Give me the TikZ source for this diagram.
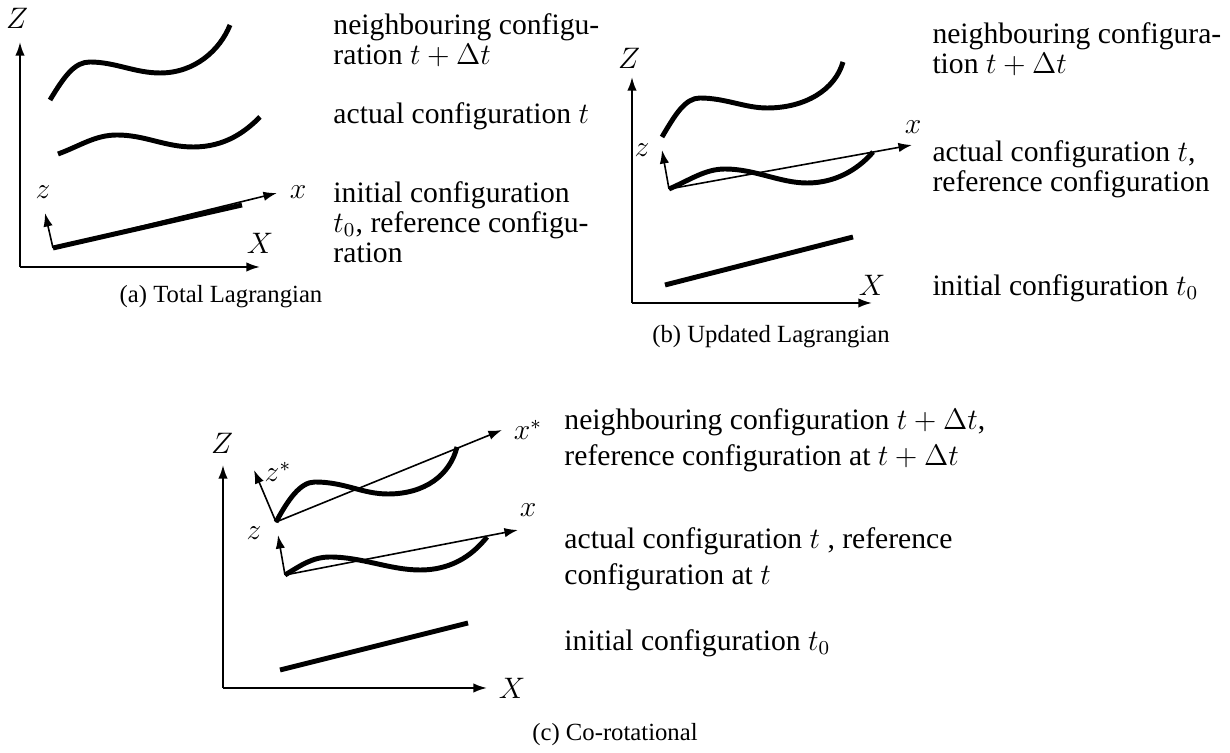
\documentclass[tikz,border=0pt]{standalone}
\usepackage{fontspec}
\setmainfont{Liberation Serif}
\usepackage{amsmath}
\usetikzlibrary{arrows.meta}

\tikzset{
  axis/.style={line width=0.8pt, ->},
  frame/.style={line width=0.65pt, ->},
  beam/.style={line width=2pt},
  desc/.style={anchor=west, align=left, inner sep=0pt, font=\fontsize{12}{12.2}\selectfont},
  wdesc/.style={desc, font=\fontsize{12}{14.5}\selectfont},
  lbl/.style={inner sep=0pt, font=\fontsize{12}{14}\selectfont},
  capt/.style={inner sep=0pt, font=\fontsize{10}{12}\selectfont}
}

\begin{document}
\begin{tikzpicture}[>={Latex[length=5.5pt,width=3.8pt]}, x=0.405pt, y=-0.405pt]
  \useasboundingbox (0,0) rectangle (1230,753);
  % (a) Total Lagrangian
  \coordinate (aO) at (20,267);
  \coordinate (aZ) at (20,42);
  \coordinate (aX) at (260,267);
  \draw[axis] (aO) -- (aZ);
  \draw[axis] (aO) -- (aX);
  \node[lbl] (aZl) at (17,18) {$Z$};
  \node[lbl] (aXl) at (260,243) {$X$};
  \draw[beam] (50,100) .. controls (65,75) and (75,62) .. (90,62)
    .. controls (115,62) and (135,73) .. (160,73)
    .. controls (195,73) and (220,50) .. (230,25);
  \draw[beam] (58,154) .. controls (80,146) and (95,135) .. (117,135)
    .. controls (145,135) and (165,147) .. (193,147)
    .. controls (225,147) and (245,132) .. (260,117);
  \coordinate (ao) at (53,248);
  \coordinate (ax) at (277,193);
  \coordinate (az) at (45,213);
  \draw[beam] (ao) -- (242,205);
  \draw[frame] (ao) -- (ax);
  \draw[frame] (ao) -- (az);
  \node[lbl] (axl) at (298,192) {$x$};
  \node[lbl] (azl) at (43,192) {$z$};
  \node[desc] (a1) at (333,40) {neighbouring configu-\\ration $t+\Delta t$};
  \node[desc] (a2) at (333,116) {actual configuration $t$};
  \node[desc] (a3) at (333,222) {initial configuration\\$t_0$, reference configu-\\ration};
  \node[capt] (acap) at (221,297) {(a) Total Lagrangian};
  % (b) Updated Lagrangian
  \coordinate (bO) at (632,303);
  \coordinate (bZ) at (632,77);
  \coordinate (bX) at (872,303);
  \draw[axis] (bO) -- (bZ);
  \draw[axis] (bO) -- (bX);
  \node[lbl] (bZl) at (629,58) {$Z$};
  \node[lbl] (bXl) at (872,285) {$X$};
  \draw[beam] (662,137) .. controls (675,115) and (685,98) .. (700,98)
    .. controls (725,98) and (745,108) .. (767,108)
    .. controls (805,108) and (835,90) .. (843,62);
  \coordinate (bo) at (669,189);
  \coordinate (bx) at (912,145);
  \coordinate (bz) at (662,150);
  \draw[beam] (bo) .. controls (690,180) and (705,169) .. (725,169)
    .. controls (755,169) and (780,183) .. (807,183)
    .. controls (840,183) and (862,165) .. (873,152);
  \draw[frame] (bo) -- (bx);
  \draw[frame] (bo) -- (bz);
  \node[lbl] (bxl) at (913,127) {$x$};
  \node[lbl] (bzl) at (642,150) {$z$};
  \draw[beam] (665,285) -- (853,237);
  \node[desc] (b1) at (932,49) {neighbouring configura-\\tion $t+\Delta t$};
  \node[desc] (b2) at (932,169) {actual configuration $t$,\\reference configuration};
  \node[desc] (b3) at (932,288) {initial configuration $t_0$};
  \node[capt] (bcap) at (771,337) {(b) Updated Lagrangian};
  % (c) Co-rotational
  \coordinate (cO) at (223,688);
  \coordinate (cZ) at (223,465);
  \coordinate (cX) at (487,688);
  \draw[axis] (cO) -- (cZ);
  \draw[axis] (cO) -- (cX);
  \node[lbl] (cZl) at (222,443) {$Z$};
  \node[lbl] (cXl) at (512,688) {$X$};
  \coordinate (cso) at (276,522);
  \coordinate (csx) at (502,430);
  \coordinate (csz) at (254,470);
  \draw[beam] (cso) .. controls (288,500) and (300,482) .. (315,482)
    .. controls (345,482) and (362,494) .. (388,494)
    .. controls (425,494) and (450,475) .. (457,447);
  \draw[frame] (cso) -- (csx);
  \draw[frame] (cso) -- (csz);
  \node[lbl] (csxl) at (528,430) {$x^*$};
  \node[lbl] (cszl) at (278,472) {$z^*$};
  \coordinate (co) at (285,575);
  \coordinate (cx) at (518,530);
  \coordinate (cz) at (278,535);
  \draw[beam] (co) .. controls (300,566) and (312,557) .. (330,557)
    .. controls (362,557) and (390,570) .. (420,570)
    .. controls (455,570) and (475,552) .. (487,537);
  \draw[frame] (co) -- (cx);
  \draw[frame] (co) -- (cz);
  \node[lbl] (cxl) at (528,510) {$x$};
  \node[lbl] (czl) at (254,533) {$z$};
  \draw[beam] (280,670) -- (468,623);
  \node[wdesc] (c1) at (564,440) {neighbouring configuration $t+\Delta t$,\\reference configuration at $t+\Delta t$};
  \node[wdesc] (c2) at (564,559) {actual configuration $t$ , reference\\configuration at $t$};
  \node[wdesc] (c3) at (564,643) {initial configuration $t_0$};
  \node[capt] (ccap) at (615,735) {(c) Co-rotational};
\end{tikzpicture}
\end{document}
